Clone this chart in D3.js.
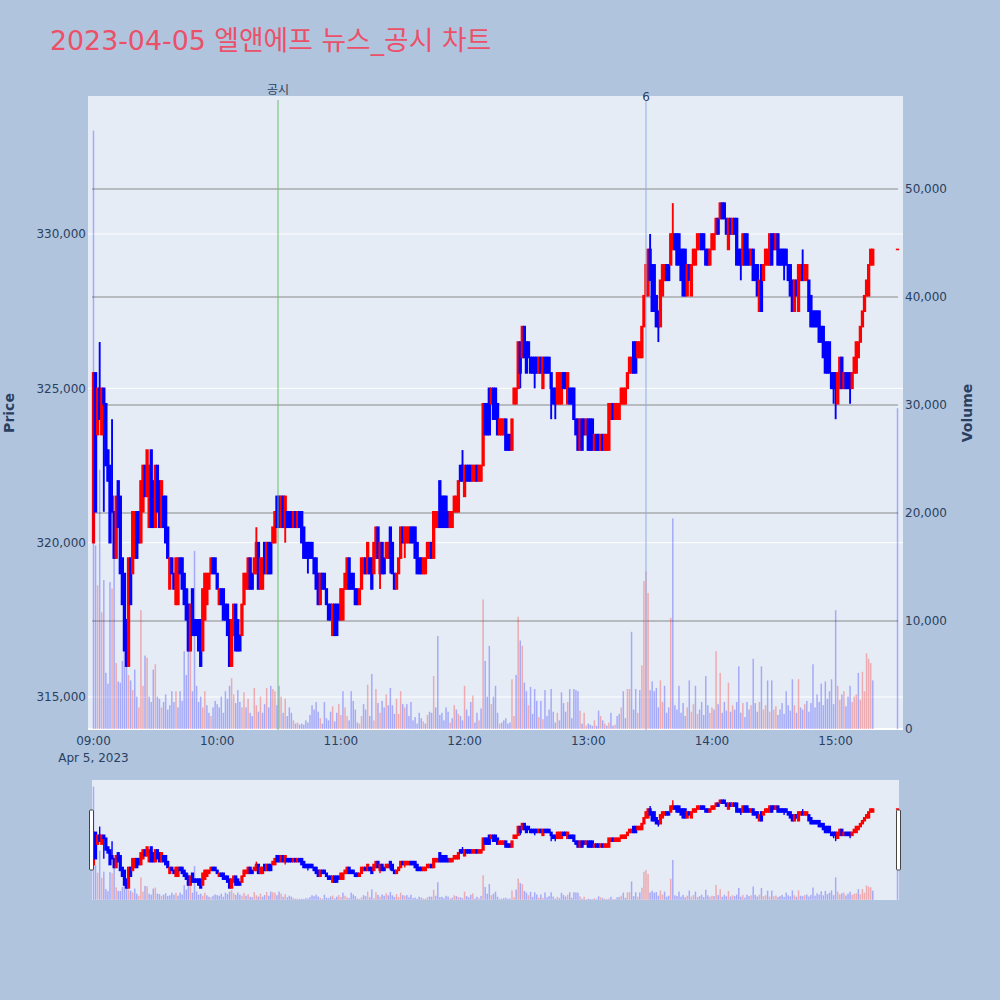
<!DOCTYPE html>
<html><head><meta charset="utf-8">
<script src="https://cdn.jsdelivr.net/npm/d3@7"></script>
<style>body{margin:0;background:#B0C4DE}svg{display:block}text{font-family:"DejaVu Sans","Noto Sans CJK KR",sans-serif}</style>
</head><body>
<svg id="chart" width="1000" height="1000"></svg>
<script>
// ---- data (prices in thousand won, one candle per minute from 09:00, last = 15:30 closing auction)
const sessionStart = "2023-04-05T09:00";
const closingAuction = "2023-04-05T15:30";
const openK = [
320,325.5,323.5,325,323.5,325,324.5,323,322.5,321.5,
321,319.5,322,321.5,319.5,319,317.5,316,319.5,319,
319.5,321,321,320,321,322.5,321.5,320.5,323,322,
320.5,322.5,322,320.5,321.5,321.5,320.5,318.5,319.5,319,
318,318,319.5,319.5,319,318.5,318,316.5,318.5,317.5,
317.5,317.5,317.5,316.5,317.5,318,318.5,319,319.5,319.5,
319,318,318.5,318.5,318,318,317.5,316,317,318,
317.5,317,317,318,318.5,318.5,319.5,319,319,319,
320,318.5,318.5,320,319,320,320,320,320,321.5,
321.5,320.5,321.5,320.5,321,321,321,320.5,321,320.5,
321,321,320.5,320,320,320,320,319.5,319.5,319,
318,319,319,318.5,318,318,317,318,318,318,
317.5,317.5,318.5,318.5,319.5,319,319,318.5,318.5,318,
318.5,319,319.5,319,319.5,319.5,319,319.5,320.5,319,
320,319.5,319.5,319.5,320.5,320,319,318.5,319,319.5,
320.5,320,320,320,320.5,320.5,320.5,320,319.5,319.5,
319,319,319.5,319.5,320,319.5,320.5,320.5,322,321.5,
321.5,321.5,321,320.5,320.5,321,321,321,322.5,322.5,
321.5,322.5,322.5,322.5,322,322,322.5,322,322,322.5,
324.5,324.5,325,324.5,325,325,324.5,323.5,323.5,323.5,
324,323.5,323.5,323,324.5,324.5,325,326.5,326,327,
326.5,326.5,326,326,326,326,325.5,326,325,326,
326,326,325.5,325,325,324.5,324.5,324.5,325.5,325.5,
324.5,325,325,325,324,324,323,324,324,323.5,
324,324,324,323,323.5,323.5,323,323.5,323,323,
323,324,324.5,324,324,324,324.5,324.5,324.5,325,
325.5,325.5,326.5,326.5,326,326,326,327,328,328,
329.5,329,329,328,327.5,327,328,328.5,329,329,
329,329.5,330,330,330,329.5,329.5,329.5,328,329,
328,329,329,329.5,329.5,330,330,329.5,329.5,329,
329.5,329.5,330,330.5,330.5,331,331,330.5,329.5,330.5,
330,330.5,330.5,329.5,329.5,329,330,330,329.5,329,
329.5,329,329,327.5,329,328.5,329,329,329,330,
330,329.5,330,329.5,329.5,329.5,329.5,329,329,328.5,
327.5,328.5,327.5,328.5,329,328.5,328.5,328.5,328,327.5,
327.5,327.5,327.5,327,327,326.5,326.5,326.5,325.5,325.5,
325.5,324.5,325,326,325,325.5,325.5,325.5,325,325.5,
325.5,326,326.5,327,327.5,328,328,329,329,329.5];
const closeK = [
325.5,321,325,324,325,324.5,322.5,322,320,321,
319.5,321.5,320.5,319,318,316.5,316,319.5,318,321,
321,319.5,320,322,322.5,321.5,323,322.5,320.5,320.5,
322.5,321,320.5,322,320.5,320,319.5,319.5,319,318.5,
319.5,319.5,319,318.5,318,317.5,316.5,318,317,317,
317,316.5,316,318.5,319,319,319,319.5,319,319,
318.5,318.5,318,317.5,317.5,317,316,317.5,318,316.5,
316.5,316.5,318,319,319,319.5,318.5,318.5,319.5,320,
318.5,319.5,319.5,319,320,319,319,320.5,321,320.5,
320.5,321.5,320.5,321.5,320.5,320.5,320.5,321,320.5,321,
320.5,320,319.5,319.5,319.5,319.5,319.5,319,318.5,318,
319,318.5,318.5,318,317.5,317.5,318,317,317,317.5,
318.5,318.5,319,319.5,318.5,318.5,318.5,318,318,318.5,
319.5,319.5,319,320,319,318.5,320,320.5,319.5,320,
319,319,320,320,319.5,319,318.5,319,319.5,320.5,
320,320.5,320.5,320.5,320,320,319.5,319,319,319,
319.5,319.5,320,320,319.5,321,321,321,320.5,320.5,
320.5,320.5,320.5,321,321,321.5,321.5,322,322,322,
322.5,322,322,322,322.5,322.5,322,322.5,322.5,324.5,
323.5,323.5,323.5,325,324,324,323.5,324,324,324,
323,323,323,324,325,325,326.5,325.5,327,326,
325.5,326,325.5,325.5,325.5,325.5,326,325.5,326,325.5,
325.5,325.5,325,324.5,324.5,325.5,325.5,325.5,325,325,
325.5,324.5,324.5,324,323.5,323,324,323,323.5,324,
323,323,323,323.5,323,323,323.5,323,323.5,323.5,
324.5,324.5,324,324.5,324.5,324.5,325,325,325,325.5,
326,326,325.5,325.5,326.5,326.5,327,328,329,329.5,
328.5,327.5,327.5,327,327,328.5,329,329,328.5,328.5,
330,330,329.5,329,329,328.5,328,328,329,328.5,
329,329.5,329.5,330,330,329.5,329.5,329,329,329.5,
330,330,330.5,330,331,330.5,330.5,330,330.5,330,
330.5,330,329,329,329,330,329,329,329,329.5,
328.5,328.5,328,328.5,327.5,329,329.5,329.5,330,329,
329.5,330,329,329,329,329,329,328.5,328,327.5,
328.5,328,329,329,328.5,329,329,327.5,327,327,
327,327,326.5,326.5,326,325.5,325.5,325.5,325,325,
325,325.5,326,325,325.5,325,325,325,325.5,326,
326.5,326.5,327,327.5,328,328.5,329,329.5,329.5,329.5];
const highK = [
325.5,325.5,325,326.5,325,325,324.5,323,322.5,324,
321,321.5,322,321.5,319.5,319,317.5,319.5,319.5,321,
321,321,321,322,322.5,322.5,323,322.5,323,322,
322.5,322.5,322,322,321.5,321.5,320.5,319.5,319.5,319,
319.5,319.5,319.5,319.5,319,318.5,318,318,318.5,317.5,
317.5,317.5,317.5,318.5,319,319,319,319.5,319.5,319.5,
319,318.5,318.5,318.5,318,318,317.5,317.5,318,318,
317.5,317,318,319,319,319.5,319.5,319,319.5,320.5,
320,319.5,319.5,320,320,320,320,320.5,321,321.5,
321.5,321.5,321.5,321.5,321,321,321,321,321,321,
321,321,320.5,320,320,320,320,319.5,319.5,319,
319,319,319,318.5,318,318,318,318,318,318,
318.5,318.5,319,319.5,319.5,319,319,318.5,318.5,318.5,
319.5,319.5,319.5,320,319.5,319.5,320,320.5,320.5,320,
320,319.5,320,320,320.5,320,319,319,319.5,320.5,
320.5,320.5,320.5,320.5,320.5,320.5,320.5,320,319.5,319.5,
319.5,319.5,320,320,320,321,321,321,322,321.5,
321.5,321.5,321,321,321,321.5,321.5,322,322.5,323,
322.5,322.5,322.5,322.5,322.5,322.5,322.5,322.5,322.5,324.5,
324.5,324.5,325,325,325,325,324.5,324,324,324,
324,323.5,323.5,324,325,325,326.5,326.5,327,327,
326.5,326.5,326,326,326,326,326,326,326,326,
326,326,325.5,325,325,325.5,325.5,325.5,325.5,325.5,
325.5,325,325,325,324,324,324,324,324,324,
324,324,324,323.5,323.5,323.5,323.5,323.5,323.5,323.5,
324.5,324.5,324.5,324.5,324.5,324.5,325,325,325,325.5,
326,326,326.5,326.5,326.5,326.5,327,328,329,329.5,
330,329,329,328,327.5,328.5,329,329,329,329,
330,331,330,330,330,329.5,329.5,329.5,329,329,
329,329.5,329.5,330,330,330,330,329.5,329.5,329.5,
330,330,330.5,330.5,331,331,331,330.5,330.5,330.5,
330.5,330.5,330.5,329.5,329.5,330,330,330,329.5,329.5,
329.5,329,329,328.5,329,329,329.5,329.5,330,330,
330,330,330,329.5,329.5,329.5,329.5,329,329,328.5,
328.5,328.5,329,329,329.5,329,329,328.5,328,327.5,
327.5,327.5,327.5,327,327,326.5,326.5,326.5,325.5,325.5,
325.5,325.5,326,326,325.5,325.5,325.5,325.5,325.5,326,
326.5,326.5,327,327.5,328,328.5,329,329.5,329.5,329.5];
const lowK = [
320,321,323.5,324,323.5,321,322.5,322,320,321,
319.5,319.5,320.5,319,318,316.5,316,316,318,319,
319.5,319.5,320,320,321,321.5,321.5,320.5,320.5,320.5,
320.5,321,320.5,320.5,320.5,320,319.5,318.5,319,318.5,
318,318,319,318.5,318,317.5,316.5,316.5,317,317,
317,316.5,316,316.5,317.5,318,318.5,319,319,319,
318.5,318,318,317.5,317.5,317,316,316,317,316.5,
316.5,316.5,317,318,318.5,318.5,318.5,318.5,319,319,
318.5,318.5,318.5,319,319,319,319,320,320,320.5,
320.5,320.5,320.5,320,320.5,320.5,320.5,320.5,320.5,320.5,
320.5,320,319.5,319.5,319,319.5,319.5,319,318.5,318,
318,318.5,318.5,318,317.5,317.5,317,317,317,317.5,
317.5,317.5,318.5,318.5,318.5,318.5,318.5,318,318,318,
318.5,319,319,319,319,318.5,319,319.5,319.5,318.5,
319,319,319.5,319.5,319,319,318.5,318.5,319,319.5,
320,319.5,320,320,320,320,319.5,319,319,319,
319,319,319.5,319.5,319.5,319.5,320.5,320.5,320.5,320.5,
320.5,320.5,320.5,320.5,320.5,321,321,321,322,322,
321.5,322,322,322,322,322,322,322,322,322.5,
323.5,323.5,323.5,324.5,324,324,323.5,323.5,323.5,323.5,
323,323,323,323,324.5,324.5,325,325,326,326,
325.5,326,325.5,325.5,325,325.5,325.5,325.5,325,325.5,
325.5,325.5,324,324.5,324,324.5,324.5,324.5,325,325,
324.5,324.5,324.5,324,323.5,323,323,323,323.5,323.5,
323,323,323,323,323,323,323,323,323,323,
323,324,324,324,324,324,324.5,324.5,324.5,325,
325.5,325.5,325.5,325.5,326,326,326,327,328,328,
328.5,327.5,327.5,327,326.5,327,328,328.5,328.5,328.5,
329,329.5,329.5,329,329,328.5,328,328,328,328.5,
328,329,329,329.5,329.5,329.5,329.5,329,329,329,
329.5,329.5,330,330,330.5,330.5,330.5,330,329.5,330,
330,330,329,329,328.5,329,329,329,329,329,
328.5,328.5,328,327.5,327.5,328.5,329,329,329,329,
329.5,329.5,329,329,329,328.5,329,328.5,328,327.5,
327.5,328,327.5,328.5,328.5,328.5,328.5,327.5,327,327,
327,327,326.5,326.5,326,325.5,325.5,325.5,325,324.5,
324,324.5,325,325,325,325,325,324.5,325,325.5,
325.5,326,326.5,327,327.5,328,328,329,329,329.5];
// volume in thousand shares
const volumeK = [
55.4,17,13.3,24,10.8,13.8,5.2,4.2,13.6,13,
16,6.1,4.4,4.3,6.3,12,9,5,4.5,3.6,
5.5,3,2,11,4,6.8,6.6,3,2.5,5.5,
6,3,2.8,2,2.5,3.2,1.8,2.2,3.5,2.5,
3.5,2,3.5,2.6,7.2,5,13,9,3.5,16.5,
4,2.5,3,2,3.5,2.2,1.5,1.2,2,2.6,
2.3,2,3,1.5,3.5,2.8,4,4.7,3.2,2.4,
3.6,2.5,2,3.4,2,2.8,1.5,1.2,3.8,2.2,
1.6,3,1.5,2.3,3.8,2,4,3.7,3.5,2.2,
4,3,1.5,2.8,1.2,2,1.5,0.8,0.5,0.6,
0.4,0.5,0.4,0.8,0.6,1.3,2.2,1.8,2.5,1.6,
1,0.5,2.5,1,0.8,1.6,2.1,0.7,1.5,2.3,
1.3,3.5,2,1.2,0.8,3.5,2.6,1.8,0.6,0.5,
1.2,2.3,1.8,4.1,1.2,5.1,0.8,3.7,2.4,1.5,
2.6,2,3.2,2.2,3.8,2.2,1.4,2.8,1.4,3.5,
2.3,2,2.3,1.2,2.5,0.8,1.1,0.5,1.5,1,
0.7,0.5,1.3,1.6,1.5,4.9,2,8.6,1.3,1.5,
0.8,2,1.6,0.6,1,2.2,1.8,1.4,1.2,0.8,
4,1.8,1.2,2.5,3.1,0.6,1.5,0.8,1.9,12,
6.3,3,7.7,2.3,3,4,1.5,0.5,0.6,0.8,
1,0.5,0.6,4.6,1.2,5,10.4,8.2,7.7,4.3,
3.5,2.2,3.9,1.4,3.7,2.6,1.1,2.6,0.9,3.6,
1.2,1.8,3.7,1.6,0.6,1.5,0.8,3.4,2.4,1.6,
2.5,3.7,1,3.7,3.6,3.5,1.7,0.5,1.5,0.3,
0.5,0.4,0.3,0.8,0.3,1.7,1.2,0.8,0.5,0.3,
0.6,1.5,0.3,0.4,1.2,1.4,2,3.5,1,3.7,
3.7,9,1.8,3.7,1.5,3.6,5.9,13.7,14.6,12.6,
3.6,4.4,3.5,3.8,2,4.5,2.5,4,1.5,2,
10.3,19.5,2.2,1.8,4,1.5,2.4,1.2,2,4.5,
1.6,2.3,4,1.4,1.8,2.5,1.3,4.9,2.2,1.5,
2,1.8,7.2,2.3,5.2,1.5,2.5,1.7,4.3,1.6,
2.2,1.8,2.5,5.8,1.5,2.4,1.1,2.5,1.8,2.2,
6.5,2.4,1.6,2.5,5.8,1.8,2.2,4.5,1.6,4.5,
1.8,2.1,1.3,1.8,2.4,1.4,3.5,2.2,1.7,4.6,
2.2,1.5,4.6,2,1.8,2.3,2.6,1.6,2.4,6,
2,3.2,2.5,4.2,2.2,4.4,2.8,3.5,4.6,2.3,
11,4,2.7,3.2,3.5,2.1,3,4,2.5,3,
3.2,5.2,2.7,5.3,3.5,7,6.5,6.1,4.5,29.7];
const priceTicks = [315000, 320000, 325000, 330000];
const volumeTicks = [0, 10000, 20000, 30000, 40000, 50000];
const timeTickLabels = ["09:00","10:00","11:00","12:00","13:00","14:00","15:00"];
const dateLabel = "Apr 5, 2023";
const eventTimes = ["2023-04-05T10:29:30", "2023-04-05T13:28:00"];
const eventLabels = ["공시", "6"];
const titleText = "2023-04-05 엘앤에프 뉴스_공시 차트";

// ---- layout
const svg = d3.select("#chart");
const P = {l: 88, r: 903, t: 96, b: 730};
const S = {l: 92, r: 899, t: 780, b: 900};
const upColor = "#ff0000", downColor = "#0000ff";
const fontColor = "#2a3f5f";

const parseMin = d3.timeParse("%Y-%m-%dT%H:%M");
const parseSec = d3.timeParse("%Y-%m-%dT%H:%M:%S");
const t0 = parseMin(sessionStart), tClose = parseMin(closingAuction);
const candles = closeK.map((c, i) => ({
  t: i < closeK.length - 1 ? d3.timeMinute.offset(t0, i) : tClose,
  o: openK[i] * 1000, h: highK[i] * 1000, l: lowK[i] * 1000, c: c * 1000,
  v: volumeK[i] * 1000,
  volUp: i > 0 && c > closeK[i - 1]
}));

const x = d3.scaleTime()
  .domain([d3.timeSecond.offset(t0, -160), d3.timeSecond.offset(tClose, 160)])
  .range([P.l, P.r]);
const y = d3.scaleLinear().domain([313931, 334471]).range([P.b, P.t]);
const yv = d3.scaleLinear().domain([-93, 58611]).range([P.b, P.t]);
const ys = d3.scaleLinear().domain([313931, 334471]).range([S.b, S.t]);
const yvs = d3.scaleLinear().domain([-93, 58611]).range([S.b, S.t]);

// title
svg.append("text").attr("x", 50).attr("y", 50).attr("font-size", 26.8)
  .attr("fill", "#ec5069").text(titleText);

// plot background
svg.append("rect").attr("x", P.l).attr("y", P.t).attr("width", P.r - P.l)
  .attr("height", P.b - P.t).attr("fill", "#e5ecf6");

// price grid (white)
svg.append("g").selectAll("line").data(priceTicks).join("line")
  .attr("x1", P.l).attr("x2", P.r).attr("y1", d => y(d)).attr("y2", d => y(d))
  .attr("stroke", "#fff").attr("stroke-width", 1);
// volume grid (gray)
svg.append("g").selectAll("line").data(volumeTicks.filter(d => d > 0)).join("line")
  .attr("x1", 92).attr("x2", 898).attr("y1", d => yv(d)).attr("y2", d => yv(d))
  .attr("stroke", "#8a8a8a").attr("stroke-width", 1.2);
// volume zero line
svg.append("line").attr("x1", P.l).attr("x2", P.r).attr("y1", yv(0)).attr("y2", yv(0))
  .attr("stroke", "#fff").attr("stroke-width", 2);

function drawCandles(g, ys_, wickW, bodyW) {
  g.selectAll("line.wick").data(candles).join("line").attr("class", "wick")
    .attr("x1", d => x(d.t)).attr("x2", d => x(d.t))
    .attr("y1", d => ys_(d.h)).attr("y2", d => ys_(d.l))
    .attr("stroke", d => d.c >= d.o ? upColor : downColor).attr("stroke-width", wickW);
  g.selectAll("rect.body").data(candles).join("rect").attr("class", "body")
    .attr("x", d => x(d.t) - bodyW / 2).attr("width", bodyW)
    .attr("y", d => Math.min(ys_(d.o), ys_(d.c)) - 0.8)
    .attr("height", d => Math.abs(ys_(d.o) - ys_(d.c)) + 1.6)
    .attr("fill", d => d.c >= d.o ? upColor : downColor);
}
function drawVolume(g, yv_, w) {
  g.selectAll("rect").data(candles).join("rect")
    .attr("x", d => x(d.t) - w / 2).attr("width", w)
    .attr("y", d => yv_(d.v)).attr("height", d => yv_(0) - yv_(d.v))
    .attr("fill", d => d.volUp ? upColor : downColor).attr("fill-opacity", 0.28);
}

const main = svg.append("g");
drawCandles(main.append("g"), y, 1.9, 3.3);
drawVolume(main.append("g"), yv, 1.5);

// event lines
const evColors = ["#6fbf6f", "#90aee6"];
eventTimes.forEach((et, k) => {
  const ex = x(parseSec(et));
  svg.append("line").attr("x1", ex).attr("x2", ex).attr("y1", k === 0 ? 100 : 101).attr("y2", P.b)
    .attr("stroke", evColors[k]).attr("stroke-width", 1);
  svg.append("text").attr("x", ex).attr("y", k === 0 ? 94 : 101).attr("text-anchor", "middle")
    .attr("font-size", 12).attr("fill", fontColor).text(eventLabels[k]);
});

// price axis labels
svg.append("g").selectAll("text").data(priceTicks).join("text")
  .attr("x", 86).attr("y", d => y(d)).attr("dy", "0.35em").attr("text-anchor", "end")
  .attr("font-size", 12).attr("fill", fontColor).text(d => d3.format(",")(d));
// volume axis labels
svg.append("g").selectAll("text").data(volumeTicks).join("text")
  .attr("x", 905).attr("y", d => yv(d)).attr("dy", "0.35em").attr("text-anchor", "start")
  .attr("font-size", 12).attr("fill", fontColor).text(d => d3.format(",")(d));
// time axis labels
svg.append("g").selectAll("text").data(timeTickLabels).join("text")
  .attr("x", d => x(parseMin("2023-04-05T" + d))).attr("y", 745).attr("text-anchor", "middle")
  .attr("font-size", 12).attr("fill", fontColor).text(d => d);
svg.append("text").attr("x", x(t0)).attr("y", 762).attr("text-anchor", "middle")
  .attr("font-size", 12).attr("fill", fontColor).text(dateLabel);

// axis titles
svg.append("text").attr("transform", "translate(14,413) rotate(-90)").attr("text-anchor", "middle")
  .attr("font-size", 14).attr("font-weight", "bold").attr("fill", fontColor).text("Price");
svg.append("text").attr("transform", "translate(972,413) rotate(-90)").attr("text-anchor", "middle")
  .attr("font-size", 14).attr("font-weight", "bold").attr("fill", fontColor).text("Volume");

// range slider
svg.append("rect").attr("x", S.l).attr("y", S.t).attr("width", S.r - S.l).attr("height", S.b - S.t)
  .attr("fill", "#e5ecf6");
const mini = svg.append("g");
drawVolume(mini.append("g"), yvs, 1.5);
drawCandles(mini.append("g"), ys, 1.4, 3.2);
[S.l, S.r].forEach(hx => {
  svg.append("rect").attr("x", hx - 2.5).attr("y", 810).attr("width", 4).attr("height", 60)
    .attr("rx", 1).attr("fill", "#fff").attr("stroke", "#444").attr("stroke-width", 1);
});
</script>
</body></html>
